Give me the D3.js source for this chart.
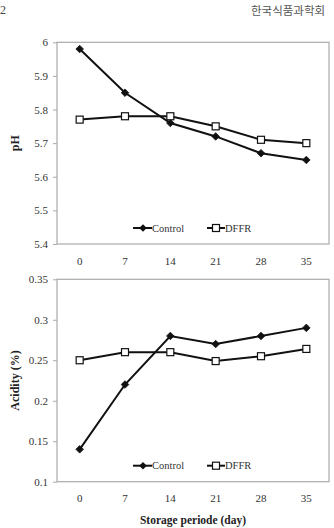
<!DOCTYPE html>
<html>
<head>
<meta charset="utf-8">
<script src="https://cdn.jsdelivr.net/npm/d3@7"></script>
<style>
  body { margin: 0; background: #fff; }
  svg text { font-family: "Liberation Serif", "DejaVu Serif", serif; }
</style>
</head>
<body>
<svg width="334" height="528"></svg>
<script>
var days = ["0", "7", "14", "21", "28", "35"];

var phControl = [5.98, 5.85, 5.76, 5.72, 5.67, 5.65];
var phDffr = [5.77, 5.78, 5.78, 5.75, 5.71, 5.70];
var phTicks = [5.4, 5.5, 5.6, 5.7, 5.8, 5.9, 6];

var acControl = [0.14, 0.22, 0.28, 0.27, 0.28, 0.29];
var acDffr = [0.25, 0.26, 0.26, 0.249, 0.255, 0.264];
var acTicks = [0.1, 0.15, 0.2, 0.25, 0.3, 0.35];

var svg = d3.select("svg");

// page header
svg.append("text").attr("x", 0).attr("y", 14)
  .style("font-size", "12px").style("fill", "#444").text("2");
svg.append("text").attr("x", 251).attr("y", 15)
  .style("font-family", "'Noto Sans CJK KR', sans-serif")
  .style("font-size", "11.5px").style("fill", "#555").text("한국식품과학회");

var left = 57, right = 329;

var x = d3.scaleBand().domain(days).range([left, right]).padding(0);

var diamond = "M0,-3.8L3.8,0L0,3.8L-3.8,0Z";

function panel(top, bottom, domain, ticks, label, control, dffr, legendY) {
  var y = d3.scaleLinear().domain(domain).range([bottom, top]);
  var g = svg.append("g");

  g.append("rect")
    .attr("x", left).attr("y", top)
    .attr("width", right - left).attr("height", bottom - top)
    .attr("fill", "none").attr("stroke", "#aaa").attr("stroke-width", 1.2);

  var yAxis = g.append("g")
    .attr("transform", "translate(" + left + ",0)")
    .call(d3.axisLeft(y).tickValues(ticks).tickFormat(d3.format("")).tickSize(4).tickPadding(5));
  yAxis.select(".domain").remove();
  yAxis.selectAll("line").attr("stroke", "#aaa");
  yAxis.selectAll("text").style("font-size", "11px").style("fill", "#333")
    .style("font-family", "'Liberation Serif', serif");

  var xAxis = g.append("g")
    .attr("transform", "translate(0," + bottom + ")")
    .call(d3.axisBottom(x).tickSize(0).tickPadding(13));
  xAxis.select(".domain").remove();
  xAxis.selectAll("text").style("font-size", "11px").style("fill", "#333")
    .style("font-family", "'Liberation Serif', serif");

  g.append("text")
    .attr("transform", "translate(19," + ((top + bottom) / 2) + ") rotate(-90)")
    .attr("text-anchor", "middle")
    .style("font-size", "12px").style("font-weight", "bold").style("fill", "#222")
    .text(label);

  var line = d3.line()
    .x(function(d, i) { return x(days[i]) + x.bandwidth() / 2; })
    .y(function(d) { return y(d); });

  g.append("path").datum(dffr).attr("d", line)
    .attr("fill", "none").attr("stroke", "#111").attr("stroke-width", 2);
  g.append("path").datum(control).attr("d", line)
    .attr("fill", "none").attr("stroke", "#111").attr("stroke-width", 2);

  g.selectAll(".dia").data(control).enter().append("path")
    .attr("d", diamond)
    .attr("transform", function(d, i) {
      return "translate(" + (x(days[i]) + x.bandwidth() / 2) + "," + y(d) + ")";
    })
    .attr("fill", "#111").attr("stroke", "#111").attr("stroke-width", 0.8)
    .attr("stroke-linejoin", "round");

  g.selectAll(".sq").data(dffr).enter().append("rect")
    .attr("x", function(d, i) { return x(days[i]) + x.bandwidth() / 2 - 3.5; })
    .attr("y", function(d) { return y(d) - 3.5; })
    .attr("width", 7).attr("height", 7)
    .attr("fill", "#fff").attr("stroke", "#111").attr("stroke-width", 1.2);

  // legend
  var lg = g.append("g").attr("transform", "translate(0," + legendY + ")");
  lg.append("line").attr("x1", 133).attr("x2", 152).attr("y1", 0).attr("y2", 0)
    .attr("stroke", "#111").attr("stroke-width", 2);
  lg.append("path").attr("d", diamond)
    .attr("transform", "translate(143,0)").attr("fill", "#111");
  lg.append("text").attr("x", 152).attr("y", 3.5)
    .style("font-size", "10.5px").style("fill", "#333").text("Control");
  lg.append("line").attr("x1", 207).attr("x2", 225).attr("y1", 0).attr("y2", 0)
    .attr("stroke", "#111").attr("stroke-width", 2);
  lg.append("rect").attr("x", 212.5).attr("y", -3.5).attr("width", 7).attr("height", 7)
    .attr("fill", "#fff").attr("stroke", "#111").attr("stroke-width", 1.2);
  lg.append("text").attr("x", 225).attr("y", 3.5)
    .style("font-size", "10.5px").style("fill", "#333").text("DFFR");
}

panel(42.3, 244, [5.4, 6], phTicks, "pH", phControl, phDffr, 228);
panel(279.3, 481.7, [0.1, 0.35], acTicks, "Acidity (%)", acControl, acDffr, 465.7);

svg.append("text")
  .attr("x", 193).attr("y", 524)
  .attr("text-anchor", "middle")
  .style("font-size", "11.5px").style("font-weight", "bold").style("fill", "#222")
  .text("Storage periode (day)");
</script>
</body>
</html>
